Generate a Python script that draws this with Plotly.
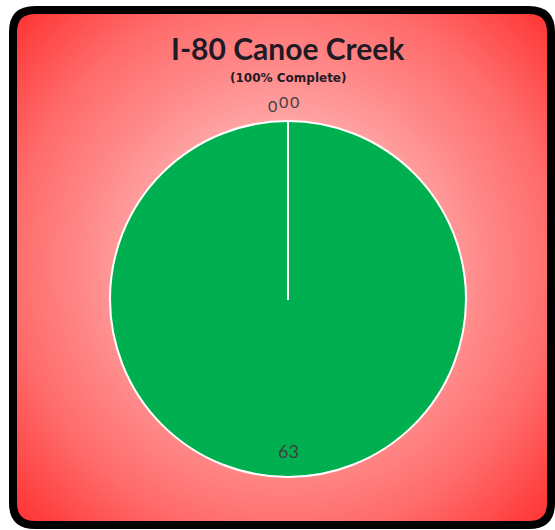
import numpy as np
import plotly.graph_objects as go

# ---- data ----
title_text = "I-80 Canoe Creek"
subtitle_text = "(100% Complete)"
labels = ["Complete", "In Progress", "Not Started", "On Hold"]
values = [63, 0, 0, 0]
slice_colors = ["#00B050", "#FFC000", "#FF0000", "#7F7F7F"]

W, H = 555, 530

# ---- background radial gradient (decoration) ----
gx = np.arange(0, W + 1, 5)
gy = np.arange(0, H + 1, 5)
XX, YY = np.meshgrid(gx, gy)
cx, cy = 283, 265
dist = np.sqrt((XX - cx) ** 2 + (YY - cy) ** 2) / 450.0
dist = np.clip(dist, 0, 1)

fig = go.Figure()
fig.add_trace(go.Heatmap(
    x=gx, y=gy, z=dist, zmin=0, zmax=1,
    colorscale=[[0, "#FFFFFF"], [0.3, "#FFA8A8"], [0.45, "#FF8888"],
                [0.6, "#FF6C6C"], [0.85, "#FF2A2A"], [1, "#FF0000"]],
    zsmooth="best", showscale=False, hoverinfo="skip",
))

fig.add_trace(go.Pie(
    labels=labels, values=values, sort=False, direction="clockwise",
    rotation=0, marker=dict(colors=slice_colors, line=dict(color="white", width=2)),
    textinfo="none", showlegend=False,
    domain=dict(x=[110 / W, 466 / W], y=[1 - 477 / H, 1 - 121 / H]),
))

# ---- border ----
x0, x1, y0, y1, r = 13, 551, 10, 525, 22
rr = (f"M {x0+r},{y0} L {x1-r},{y0} Q {x1},{y0} {x1},{y0+r} L {x1},{y1-r} "
      f"Q {x1},{y1} {x1-r},{y1} L {x0+r},{y1} Q {x0},{y1} {x0},{y1-r} "
      f"L {x0},{y0+r} Q {x0},{y0} {x0+r},{y0} Z")
outer = f"M -5,-5 L {W+5},-5 L {W+5},{H+5} L -5,{H+5} Z "
shapes = [
    dict(type="path", xref="x", yref="y", path=outer + rr, fillcolor="white",
         fillrule="evenodd", line=dict(width=0), layer="above"),
    dict(type="path", xref="x", yref="y", path=rr, line=dict(color="black", width=8),
         layer="above"),
]

annotations = [
    dict(x=288, y=48, xref="x", yref="y", text="<b>" + title_text + "</b>", showarrow=False,
         font=dict(family="Lato", size=30, color="#1F1A24"), xanchor="center", yanchor="middle"),
    dict(x=288, y=78, xref="x", yref="y", text="<b>" + subtitle_text + "</b>", showarrow=False,
         font=dict(family="DejaVu Sans", size=12, color="#1F1A24"), xanchor="center", yanchor="middle"),
    dict(x=288, y=451, xref="x", yref="y", text=str(values[0]), showarrow=False,
         font=dict(family="Lato", size=18, color="#404040"), xanchor="center", yanchor="middle"),
]
zero_pos = [(272, 105), (283, 101), (294, 101)]
for v, (ax_, ay_) in zip(values[1:], zero_pos):
    annotations.append(dict(x=ax_, y=ay_, xref="x", yref="y", text=str(v), showarrow=False,
                            font=dict(family="Lato", size=16, color="#404040"),
                            xanchor="center", yanchor="middle"))

fig.update_layout(
    width=W, height=H, margin=dict(l=0, r=0, t=0, b=0),
    paper_bgcolor="white", plot_bgcolor="white",
    xaxis=dict(range=[0, W], visible=False, fixedrange=True, domain=[0, 1]),
    yaxis=dict(range=[H, 0], visible=False, fixedrange=True, domain=[0, 1]),
    shapes=shapes, annotations=annotations,
)

fig.write_html("out.html", config={"displayModeBar": False},
               post_script="document.body.style.margin='0';document.body.style.overflow='hidden';")
